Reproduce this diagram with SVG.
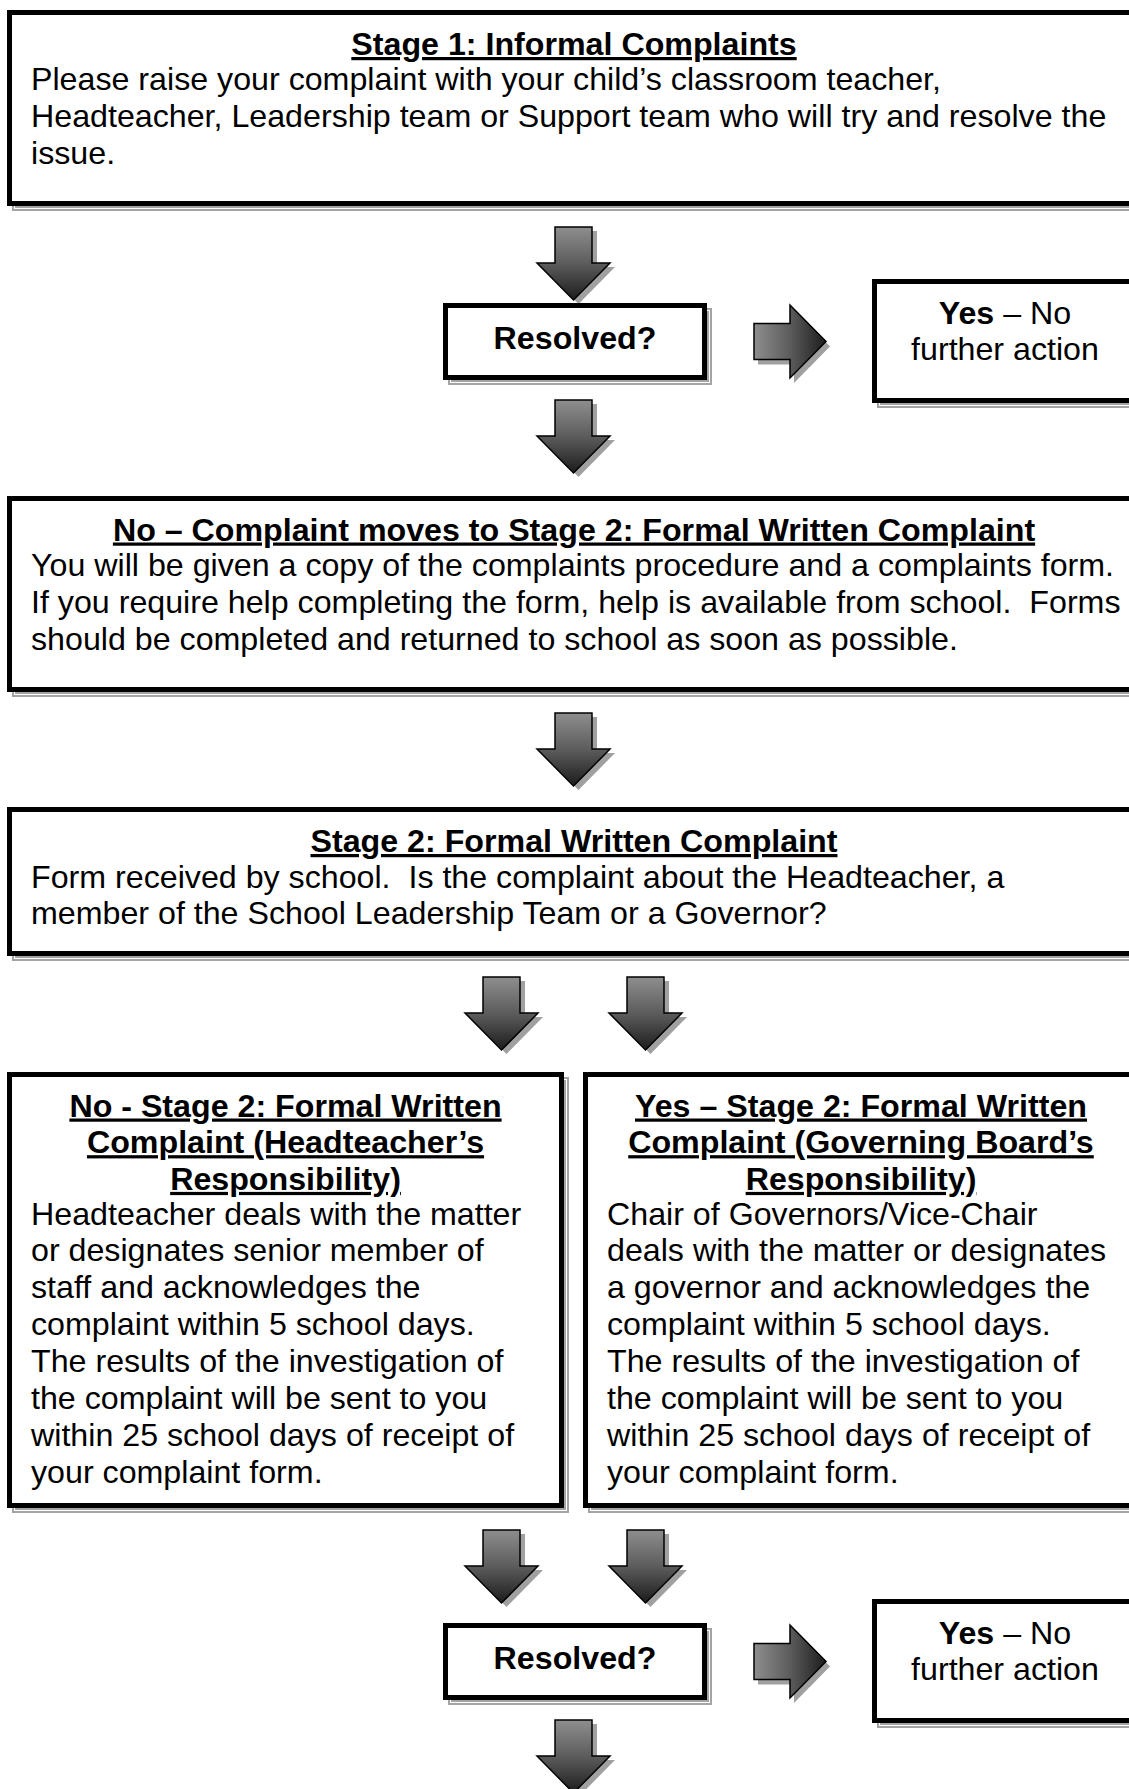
<svg xmlns="http://www.w3.org/2000/svg" width="1129" height="1789" viewBox="0 0 1129 1789">
<style>
text{font-family:"Liberation Sans",Arial,sans-serif;font-size:32.2px;fill:#000;white-space:pre}
.t{font-weight:bold;text-decoration:underline;text-decoration-skip-ink:none;text-anchor:middle}
.c{text-anchor:middle}
.bold{font-weight:bold}
.box{fill:#fff;stroke:#000;stroke-width:5}
.sh{fill:none;stroke:#a3a3a3;stroke-width:5}
.shl{fill:none;stroke:#fff;stroke-width:1}
.arr{stroke:#000;stroke-width:1.5;stroke-linejoin:miter}
.ash{fill:#a0a0a0}
</style>
<defs>
<linearGradient id="gv" x1="0" y1="0" x2="0" y2="1">
<stop offset="0" stop-color="#8e8e8e"/>
<stop offset="0.5" stop-color="#5c5c5c"/>
<stop offset="1" stop-color="#1c1c1c"/>
</linearGradient>
<linearGradient id="gh" x1="0" y1="0" x2="1" y2="0">
<stop offset="0" stop-color="#8e8e8e"/>
<stop offset="0.5" stop-color="#5c5c5c"/>
<stop offset="1" stop-color="#1c1c1c"/>
</linearGradient>
<path id="down" d="M-18.5,0 H18.5 V36 H36.5 L0,73 L-36.5,36 H-18.5 Z"/>
<path id="right" d="M0,-18 H36 V-36.5 L72,0 L36,36.5 V18 H0 Z"/>
</defs>

<g id="connectors">
<g transform="translate(573.5,227)"><use href="#down" class="ash" x="5" y="4"/><use href="#down" class="arr" fill="url(#gv)"/></g>
<g transform="translate(573.5,400)"><use href="#down" class="ash" x="5" y="4"/><use href="#down" class="arr" fill="url(#gv)"/></g>
<g transform="translate(754,341.5)"><use href="#right" class="ash" x="4" y="5"/><use href="#right" class="arr" fill="url(#gh)"/></g>
<g transform="translate(573.5,713)"><use href="#down" class="ash" x="5" y="4"/><use href="#down" class="arr" fill="url(#gv)"/></g>
<g transform="translate(501.5,977)"><use href="#down" class="ash" x="5" y="4"/><use href="#down" class="arr" fill="url(#gv)"/></g>
<g transform="translate(645.5,977)"><use href="#down" class="ash" x="5" y="4"/><use href="#down" class="arr" fill="url(#gv)"/></g>
<g transform="translate(501.5,1530)"><use href="#down" class="ash" x="5" y="4"/><use href="#down" class="arr" fill="url(#gv)"/></g>
<g transform="translate(645.5,1530)"><use href="#down" class="ash" x="5" y="4"/><use href="#down" class="arr" fill="url(#gv)"/></g>
<g transform="translate(754,1661.5)"><use href="#right" class="ash" x="4" y="5"/><use href="#right" class="arr" fill="url(#gh)"/></g>
<g transform="translate(573.5,1720)"><use href="#down" class="ash" x="5" y="4"/><use href="#down" class="arr" fill="url(#gv)"/></g>
</g>

<g id="stage1">
<rect class="sh" x="14.5" y="17.5" width="1129" height="191"/><rect class="shl" x="14.5" y="17.5" width="1129" height="191"/>
<rect class="box" x="9.5" y="12.5" width="1129" height="191"/>
<text class="t" x="574" y="55">Stage 1: Informal Complaints</text>
<text x="31" y="90">Please raise your complaint with your child’s classroom teacher,</text>
<text x="31" y="126.9">Headteacher, Leadership team or Support team who will try and resolve the</text>
<text x="31" y="163.8">issue.</text>
</g>

<g id="resolved1">
<rect class="sh" x="450.5" y="310.5" width="259" height="72"/><rect class="shl" x="450.5" y="310.5" width="259" height="72"/>
<rect class="box" x="445.5" y="305.5" width="259" height="72"/>
<text class="c bold" x="575" y="349">Resolved?</text>
</g>

<g id="yes1">
<rect class="sh" x="879.5" y="286.5" width="264" height="119"/><rect class="shl" x="879.5" y="286.5" width="264" height="119"/>
<rect class="box" x="874.5" y="281.5" width="264" height="119"/>
<text class="c" x="1005" y="323.5"><tspan class="bold">Yes</tspan> – No</text>
<text class="c" x="1005" y="360">further action</text>
</g>

<g id="stage2-move">
<rect class="sh" x="14.5" y="503.5" width="1129" height="191"/><rect class="shl" x="14.5" y="503.5" width="1129" height="191"/>
<rect class="box" x="9.5" y="498.5" width="1129" height="191"/>
<text class="t" x="574" y="540.5">No – Complaint moves to Stage 2: Formal Written Complaint</text>
<text x="31" y="576">You will be given a copy of the complaints procedure and a complaints form.</text>
<text x="31" y="612.9">If you require help completing the form, help is available from school.  Forms</text>
<text x="31" y="649.8">should be completed and returned to school as soon as possible.</text>
</g>

<g id="stage2-formal">
<rect class="sh" x="14.5" y="814.5" width="1129" height="144"/><rect class="shl" x="14.5" y="814.5" width="1129" height="144"/>
<rect class="box" x="9.5" y="809.5" width="1129" height="144"/>
<text class="t" x="574" y="852">Stage 2: Formal Written Complaint</text>
<text x="31" y="887.5">Form received by school.  Is the complaint about the Headteacher, a</text>
<text x="31" y="924.4">member of the School Leadership Team or a Governor?</text>
</g>

<g id="headteacher">
<rect class="sh" x="14.5" y="1079.5" width="552" height="431"/><rect class="shl" x="14.5" y="1079.5" width="552" height="431"/>
<rect class="box" x="9.5" y="1074.5" width="552" height="431"/>
<text class="t" x="285.5" y="1116.5">No - Stage 2: Formal Written</text>
<text class="t" x="285.5" y="1153.2">Complaint (Headteacher’s</text>
<text class="t" x="285.5" y="1189.9">Responsibility)</text>
<text x="31" y="1224.5">Headteacher deals with the matter</text>
<text x="31" y="1261.4">or designates senior member of</text>
<text x="31" y="1298.3">staff and acknowledges the</text>
<text x="31" y="1335.2">complaint within 5 school days.</text>
<text x="31" y="1372.1">The results of the investigation of</text>
<text x="31" y="1409">the complaint will be sent to you</text>
<text x="31" y="1445.9">within 25 school days of receipt of</text>
<text x="31" y="1482.8">your complaint form.</text>
</g>

<g id="governing">
<rect class="sh" x="590.5" y="1079.5" width="553" height="431"/><rect class="shl" x="590.5" y="1079.5" width="553" height="431"/>
<rect class="box" x="585.5" y="1074.5" width="553" height="431"/>
<text class="t" x="861" y="1116.5">Yes – Stage 2: Formal Written</text>
<text class="t" x="861" y="1153.2">Complaint (Governing Board’s</text>
<text class="t" x="861" y="1189.9">Responsibility)</text>
<text x="607" y="1224.5">Chair of Governors/Vice-Chair</text>
<text x="607" y="1261.4">deals with the matter or designates</text>
<text x="607" y="1298.3">a governor and acknowledges the</text>
<text x="607" y="1335.2">complaint within 5 school days.</text>
<text x="607" y="1372.1">The results of the investigation of</text>
<text x="607" y="1409">the complaint will be sent to you</text>
<text x="607" y="1445.9">within 25 school days of receipt of</text>
<text x="607" y="1482.8">your complaint form.</text>
</g>

<g id="resolved2">
<rect class="sh" x="450.5" y="1630.5" width="259" height="72"/><rect class="shl" x="450.5" y="1630.5" width="259" height="72"/>
<rect class="box" x="445.5" y="1625.5" width="259" height="72"/>
<text class="c bold" x="575" y="1669">Resolved?</text>
</g>

<g id="yes2">
<rect class="sh" x="879.5" y="1606.5" width="264" height="119"/><rect class="shl" x="879.5" y="1606.5" width="264" height="119"/>
<rect class="box" x="874.5" y="1601.5" width="264" height="119"/>
<text class="c" x="1005" y="1643.5"><tspan class="bold">Yes</tspan> – No</text>
<text class="c" x="1005" y="1680">further action</text>
</g>
</svg>
